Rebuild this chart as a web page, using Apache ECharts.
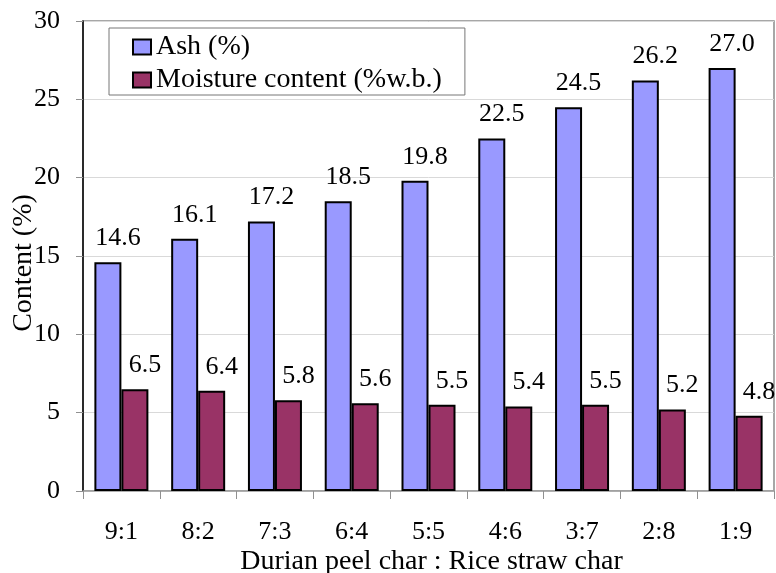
<!DOCTYPE html>
<html>
<head>
<meta charset="utf-8">
<script src="https://cdn.jsdelivr.net/npm/echarts@6/dist/echarts.min.js"></script>
<style>
html,body{margin:0;padding:0;background:#fff;}
#chart{width:776px;height:573px;}
</style>
</head>
<body>
<div id="chart"></div>
<script>
const categories = ['9:1','8:2','7:3','6:4','5:5','4:6','3:7','2:8','1:9'];
const ashValues = [14.6,16.1,17.2,18.5,19.8,22.5,24.5,26.2,27.0];
const moistureValues = [6.5,6.4,5.8,5.6,5.5,5.4,5.5,5.2,4.8];
const seriesNames = ['Ash (%)','Moisture content (%w.b.)'];
const xTitle = 'Durian peel char : Rice straw char';
const yTitle = 'Content (%)';

const FONT = "'Liberation Serif','Times New Roman',serif";
const FS = 26;
const FT = 28;
const chart = echarts.init(document.getElementById('chart'));

const labelCfg = {
  show: true, position: 'top', distance: 11, offset: [10, 0],
  fontFamily: FONT, fontSize: FS, color: '#000',
  formatter: p => p.value.toFixed(1)
};

chart.setOption({
  animation: false,
  backgroundColor: '#fff',
  textStyle: { fontFamily: FONT },
  grid: {
    left: 83, right: 2, top: 21, bottom: 82,
    containLabel: false,
    outerBoundsMode: 'none',
    show: true, borderColor: '#8a8a8a', borderWidth: 1.5, backgroundColor: 'transparent'
  },
  legend: {
    orient: 'vertical',
    left: 109, top: 28,
    padding: [5, 23, 1, 23],
    itemGap: 5,
    itemWidth: 18, itemHeight: 15,
    backgroundColor: '#fff',
    borderColor: '#777', borderWidth: 1,
    textStyle: { fontFamily: FONT, fontSize: FT, color: '#000', lineHeight: 25 },
    data: [
      { name: seriesNames[0], icon: 'rect', itemStyle: { color: '#9999FF', borderColor: '#000', borderWidth: 2 } },
      { name: seriesNames[1], icon: 'rect', itemStyle: { color: '#993366', borderColor: '#000', borderWidth: 2 } }
    ]
  },
  xAxis: {
    type: 'category',
    data: categories,
    name: xTitle,
    nameLocation: 'middle',
    nameGap: 57,
    nameMoveOverlap: false,
    nameTextStyle: { fontFamily: FONT, fontSize: FT, color: '#000', padding: [0, 0, 0, 6] },
    axisLine: { lineStyle: { color: '#a0a0a0', width: 1.5 } },
    axisTick: { show: true, length: 8, lineStyle: { color: '#909090', width: 1 } },
    axisLabel: { fontFamily: FONT, fontSize: FS, color: '#000', margin: 28 },
    splitLine: { show: false }
  },
  yAxis: {
    type: 'value',
    min: 0, max: 30, interval: 5,
    name: yTitle,
    nameLocation: 'middle',
    nameGap: 45,
    nameRotate: 90,
    nameMoveOverlap: false,
    nameTextStyle: { fontFamily: FONT, fontSize: FT, color: '#000', padding: [0, 14, 0, 0] },
    axisLine: { show: true, lineStyle: { color: '#000', width: 1.5 } },
    axisTick: { show: true, length: 7, lineStyle: { color: '#909090', width: 1 } },
    axisLabel: { fontFamily: FONT, fontSize: FS, color: '#000', margin: 23 },
    splitLine: { show: true, lineStyle: { color: '#d9d9d9', width: 1 } }
  },
  series: [
    {
      name: seriesNames[0], type: 'bar', data: ashValues,
      barWidth: 27, barGap: '0%',
      itemStyle: { color: '#9999FF', borderColor: '#000', borderWidth: 2 },
      label: labelCfg
    },
    {
      name: seriesNames[1], type: 'bar', data: moistureValues,
      barWidth: 27, barGap: '0%',
      itemStyle: { color: '#993366', borderColor: '#000', borderWidth: 2 },
      label: labelCfg
    }
  ]
});
</script>
</body>
</html>
